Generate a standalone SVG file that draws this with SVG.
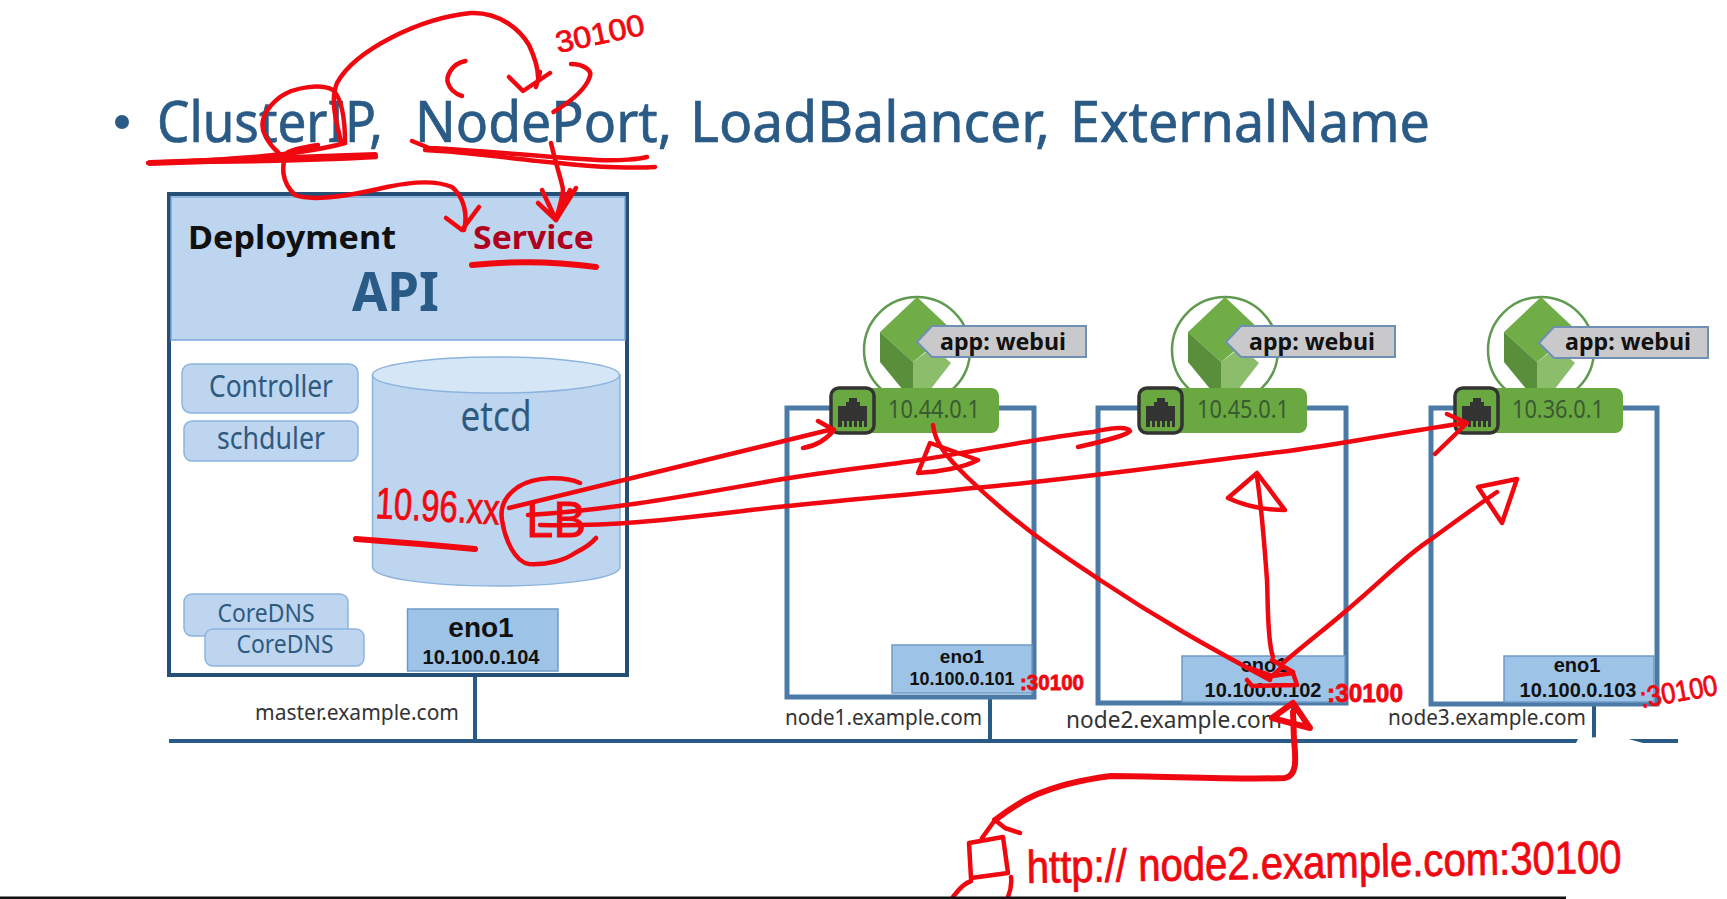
<svg xmlns="http://www.w3.org/2000/svg" width="1727" height="899" viewBox="0 0 1727 899">
<style>
text{font-family:"Noto Sans","Liberation Sans",sans-serif}
.box{fill:#bdd5ee;stroke:#8db4de;stroke-width:1.5}
.lbl{fill:#2f5a80;text-anchor:middle}
.nb{fill:#fff;stroke:#4a7aa5;stroke-width:5}
.eno{fill:#9dc3e6;stroke:#6f9bc8;stroke-width:1.5}
.ab{font-family:"Liberation Sans",Arial,sans-serif;font-weight:700;fill:#111;text-anchor:middle}
.host{fill:#333;font-size:22px}
.ip{fill:#3a5a30;font-size:25px;text-anchor:middle}
.tagt{fill:#111;font-size:24px;font-weight:700;text-anchor:middle}
.tag{fill:#c9c9cb;stroke:#6f8fb5;stroke-width:2}
.wire{stroke:#2a5a86;stroke-width:4;fill:none}
.ttl{font-size:57px;fill:#2a5a86;stroke:#2a5a86;stroke-width:.7}
.r{fill:none;stroke:#f00810;stroke-width:4.500;stroke-linecap:round;stroke-linejoin:round}
.rt{stroke-width:6}
.rx{fill:#f00810;stroke:#f00810;stroke-width:.8;font-family:"Liberation Sans",Arial,sans-serif}
</style>
<defs>
<g id="pod">
<circle cx="0" cy="0" r="53" fill="#fff" stroke="#5f9a50" stroke-width="2.5"/>
<path d="M0-53-37-18-4 12 35-20Z" fill="#70ad47"/>
<path d="M-37-18-4 12V40H-14L-37 12Z" fill="#598f3a"/>
<path d="M-4 12 16-3 34 13 13 40H-4Z" fill="#8cbd6a"/>
</g>
<g id="tag">
<path class="tag" d="M0 16 15 0H169V31H15Z"/>
</g>
<g id="port">
<rect x="0" y="0" width="169" height="45" rx="8" fill="#6aa842"/>
<rect x="1" y="0" width="43" height="45" rx="8" fill="#6aa842" stroke="#333" stroke-width="3.5"/>
<path d="M8 18H16V14H19V10H27V14H30V18H37V39H34V33H32V39H29V33H27V39H24V33H22V39H19V33H17V39H14V33H12V39H8Z" fill="#333"/>
</g>
</defs>
<rect width="1727" height="899" fill="#fff"/>

<g id="title">
<circle cx="122" cy="122" r="7" fill="#2a5a86"/>
<text class="ttl" x="157" y="142" textLength="226" lengthAdjust="spacingAndGlyphs">ClusterIP,</text>
<text class="ttl" x="415" y="142" textLength="257" lengthAdjust="spacingAndGlyphs">NodePort,</text>
<text class="ttl" x="690" y="142" textLength="360" lengthAdjust="spacingAndGlyphs">LoadBalancer,</text>
<text class="ttl" x="1070" y="142" textLength="360" lengthAdjust="spacingAndGlyphs">ExternalName</text>
</g>

<g id="connectors">
<path class="wire" d="M169 741H1678"/>
<path class="wire" d="M475 675V741M990 697V741M1293 703V741M1594 704V741"/>
<path d="M1575 745 1578 739Q1610 735 1625 738L1650 745Z" fill="#fff"/>
</g>

<g id="master">
<rect x="169" y="194" width="458" height="481" fill="#fff" stroke="#264f78" stroke-width="4"/>
<rect x="171" y="197" width="454" height="143" fill="#bdd5ee" stroke="#7aa7d8" stroke-width="1.5"/>
<text x="188" y="249" font-size="32" font-weight="700" fill="#111" textLength="208" lengthAdjust="spacingAndGlyphs">Deployment</text>
<text x="473" y="249" font-size="32" font-weight="700" fill="#b00020" textLength="121" lengthAdjust="spacingAndGlyphs">Service</text>
<text x="352" y="311" font-size="54" font-weight="700" fill="#2a5a86" textLength="87" lengthAdjust="spacingAndGlyphs">API</text>
<text x="255" y="720" class="host" textLength="204" lengthAdjust="spacingAndGlyphs">master.example.com</text>
</g>
<g id="controller">
<rect class="box" x="182" y="364" width="176" height="49" rx="9"/>
<text class="lbl" x="271" y="397" font-size="30" textLength="124" lengthAdjust="spacingAndGlyphs">Controller</text>
</g>
<g id="scheduler">
<rect class="box" x="184" y="421" width="174" height="40" rx="8"/>
<text class="lbl" x="271" y="449" font-size="30" textLength="108" lengthAdjust="spacingAndGlyphs">schduler</text>
</g>
<g id="etcd">
<path class="box" d="M372.500 375V567C372.500 578 428 586 496 586S620 578 620 567V375Z"/>
<ellipse cx="496" cy="375" rx="123.500" ry="18" fill="#d5e6f6" stroke="#8db4de" stroke-width="1.500"/>
<text class="lbl" x="496" y="431" font-size="42" textLength="71" lengthAdjust="spacingAndGlyphs">etcd</text>
</g>
<g id="coredns1">
<rect class="box" x="184" y="594" width="164" height="42" rx="8"/>
<text class="lbl" x="266" y="622" font-size="25" textLength="97" lengthAdjust="spacingAndGlyphs">CoreDNS</text>
</g>
<g id="coredns2">
<rect class="box" x="205" y="629" width="159" height="37" rx="8"/>
<text class="lbl" x="285" y="653" font-size="25" textLength="97" lengthAdjust="spacingAndGlyphs">CoreDNS</text>
</g>
<g id="eno-master">
<rect class="eno" x="407.500" y="609" width="150.500" height="62"/>
<text class="ab" x="481" y="637" font-size="28">eno1</text>
<text class="ab" x="481" y="664" font-size="20">10.100.0.104</text>
</g>

<g id="node1">
<rect class="nb" x="787" y="408" width="247" height="289"/>
<rect class="eno" x="892" y="645" width="140" height="48"/>
<text class="ab" x="962" y="663" font-size="19">eno1</text>
<text class="ab" x="962" y="685" font-size="18">10.100.0.101</text>
<text x="785" y="725" class="host" textLength="197" lengthAdjust="spacingAndGlyphs">node1.example.com</text>
<use href="#pod" x="917" y="350"/>
<use href="#tag" x="917" y="326"/>
<text class="tagt" x="1003" y="350" textLength="126" lengthAdjust="spacingAndGlyphs">app: webui</text>
<use href="#port" x="830" y="388"/>
<text class="ip" x="934" y="418" textLength="92" lengthAdjust="spacingAndGlyphs">10.44.0.1</text>
</g>
<g id="node2">
<rect class="nb" x="1098" y="408" width="248" height="295"/>
<rect class="eno" x="1182" y="656" width="163" height="46"/>
<text class="ab" x="1264" y="672" font-size="20">eno1</text>
<text class="ab" x="1263" y="697" font-size="20">10.100.0.102</text>
<text x="1066" y="728" class="host" textLength="216" lengthAdjust="spacingAndGlyphs" style="font-size:24px">node2.example.com</text>
<use href="#pod" x="1225" y="350"/>
<use href="#tag" x="1226" y="326"/>
<text class="tagt" x="1312" y="350" textLength="126" lengthAdjust="spacingAndGlyphs">app: webui</text>
<use href="#port" x="1138" y="388"/>
<text class="ip" x="1243" y="418" textLength="92" lengthAdjust="spacingAndGlyphs">10.45.0.1</text>
</g>
<g id="node3">
<rect class="nb" x="1431" y="408" width="226" height="296"/>
<rect class="eno" x="1504" y="656" width="150" height="46"/>
<text class="ab" x="1577" y="672" font-size="20">eno1</text>
<text class="ab" x="1578" y="697" font-size="20">10.100.0.103</text>
<text x="1388" y="725" class="host" textLength="198" lengthAdjust="spacingAndGlyphs">node3.example.com</text>
<use href="#pod" x="1541" y="350"/>
<use href="#tag" x="1539" y="327"/>
<text class="tagt" x="1628" y="350" textLength="126" lengthAdjust="spacingAndGlyphs">app: webui</text>
<use href="#port" x="1454" y="388"/>
<text class="ip" x="1558" y="418" textLength="92" lengthAdjust="spacingAndGlyphs">10.36.0.1</text>
</g>

<g id="annotations">
<path class="r" d="M341 142C336 120 330 100 337 83C355 50 420 18 471 13C500 12 520 30 529 45C535 58 538 68 538 77"/>
<path class="r" d="M509 77 523 91 550 73M536 87 540 72"/>
<path class="r" d="M345 143C345 125 343 100 333 90C322 84 296 86 280 97C266 108 258 122 265 135C270 145 274 149 278 152"/>
<path class="r" d="M318 145C305 147 290 150 287 153C281 165 281 182 295 195C310 201 340 198 387 187C410 182 435 180 452 187C464 197 468 215 464 230"/>
<path class="r" d="M446 218 462 230 479 207"/>
<path class="r rt" d="M150 163 375 155"/>
<path class="r" d="M148 163C220 160 300 156 345 143M165 162C240 162 320 160 376 157"/>
<path class="r" d="M412 141 429 148C480 150 540 157 597 160 620 161 640 159 647 157"/>
<path class="r" d="M425 150C470 152 520 160 559 163 600 168 640 168 655 167"/>
<path class="r" d="M551 143C556 165 563 185 563 190 562 200 558 212 556 220"/>
<path class="r" d="M542 190 556 220M538 203 556 220M576 188 556 220M570 190 556 218"/>
<path class="r" d="M465.500 61C450 64 446 78 448 83 450 90 456 94 462 96"/>
<path class="r" d="M571 64C583 64 592 70 590 76 586 90 570 102 553.500 112"/>
<text class="rx" x="558" y="53" font-size="30" textLength="90" lengthAdjust="spacingAndGlyphs" transform="rotate(-12 558 53)">30100</text>
<path class="r rt" d="M472 265C520 260 560 262 596 267"/>

<text class="rx" x="375" y="518" font-size="44" textLength="124" lengthAdjust="spacingAndGlyphs" transform="rotate(3 375 518)">10.96.xx</text>
<path class="r rt" d="M356 539 420 544 475 549"/>
<path class="r" d="M580 483C565 476 535 476 518 487 505 496 500 508 502 520 505 540 515 562 529 564 548 565 565 560 575 553 585 548 592 543 596 538"/>
<text class="rx" x="526" y="537" font-size="50" textLength="60" lengthAdjust="spacingAndGlyphs">LB</text>
<path class="r" d="M509 508C580 490 680 466 833 429M818 421 834 430C826 440 815 446 803 448"/>
<path class="r" d="M528 515C610 510 680 497 760 483 820 472 880 466 920 460 970 452 1040 438 1093 432 1110 428 1128 426 1130 431 1126 436 1100 442 1078 447"/>
<path class="r" d="M540 525C620 527 690 517 760 509 850 499 910 495 973 488 1050 482 1150 468 1280 452 1340 445 1410 430 1467 423M1447 414 1467 423 1435 454"/>
<path class="r" d="M1270 680C1210 648 1160 620 1100 580 1060 553 1020 528 967 477 950 460 935 445 933 425"/>
<path class="r" d="M930 443 918 473C940 472 965 467 978 460Z"/>
<path class="r" d="M1273 657C1267 640 1268 600 1267 580 1264 540 1262 510 1257 477"/>
<path class="r" d="M1257 473 1228 498C1245 506 1265 510 1285 510Z"/>
<path class="r" d="M1283 663C1310 640 1330 625 1347 610 1385 578 1405 556 1430 540 1455 522 1475 507 1497 492"/>
<path class="r" d="M1478 487 1517 479 1502 523Z"/>
<path class="r" d="M1247 680 1252 686 1297 685 1293 673 1272 676 1250 668M1270 678 1283 666M1272 660 1293 672"/>
<text class="rx" x="1020" y="690" font-size="22" textLength="64" lengthAdjust="spacingAndGlyphs" font-weight="700">:30100</text>
<text class="rx" x="1327" y="702" font-size="26" textLength="76" lengthAdjust="spacingAndGlyphs" font-weight="700">:30100</text>
<text class="rx" x="1642" y="708" font-size="29" textLength="78" lengthAdjust="spacingAndGlyphs" transform="rotate(-10 1642 708)">:30100</text>

<path class="r rt" d="M995 820C1015 805 1040 785 1111 776 1160 776 1240 780 1285 778 1297 776 1296 760 1294 740L1293 712"/>
<path class="r rt" d="M1293 703 1272 718 1310 728Z"/>
<path class="r" d="M995 820 1005 828 1020 833M995 820 982 838"/>
<path class="r" d="M969 843 1003 837 1008 873 971 878Z"/>
<path class="r" d="M1011 877C1012 885 1010 892 1008 897M971 881C962 884 957 892 953 897"/>
<text class="rx" x="1027" y="883" font-size="46" textLength="595" lengthAdjust="spacingAndGlyphs" transform="rotate(-1 1027 883)">http:// node2.example.com:30100</text>
</g>

<rect id="bottom-edge" x="0" y="896.500" width="1566" height="2.500" fill="#111"/>
</svg>
